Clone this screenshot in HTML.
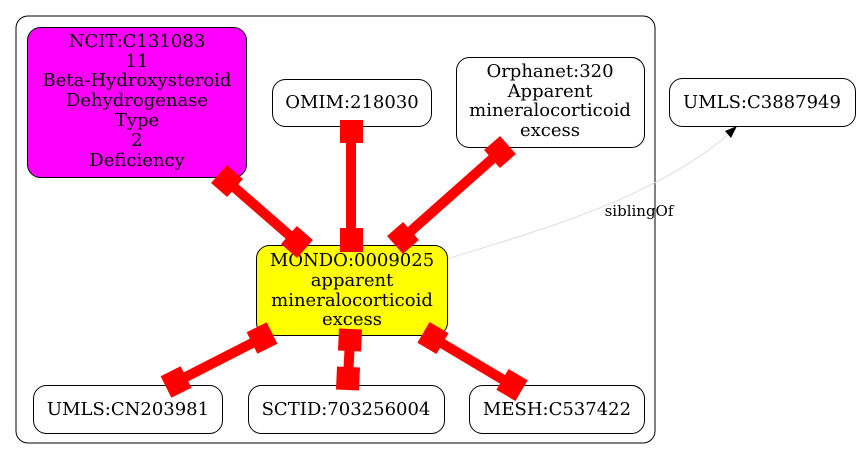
<!DOCTYPE html>
<html><head><meta charset="utf-8"><style>
html,body{margin:0;padding:0;background:#fff;width:861px;height:460px;overflow:hidden}
svg{display:block}
text{font-family:"DejaVu Serif","Liberation Serif",serif;font-size:18px;fill:#000;text-anchor:middle}
</style></head><body>
<svg width="861" height="460" viewBox="0 0 861 460" xmlns="http://www.w3.org/2000/svg">
<rect x="16" y="16" width="639" height="427" rx="12" fill="#fff" stroke="#000" stroke-width="1"/>

<!-- siblingOf edge -->
<path d="M447,259 C540,230 650,200 728,135" fill="none" stroke="#ddd" stroke-width="1"/>
<polygon points="737,126 725,131 731,138" fill="#000"/>
<text x="639" y="216" style="font-size:15px">siblingOf</text>

<!-- nodes -->
<rect x="27.5" y="27.5" width="219" height="150" rx="13" fill="#ff00ff" stroke="#000"/>
<text x="137" y="47">NCIT:C131083</text>
<text x="137" y="67">11</text>
<text x="137" y="86">Beta-Hydroxysteroid</text>
<text x="137" y="106">Dehydrogenase</text>
<text x="137" y="126">Type</text>
<text x="137" y="146">2</text>
<text x="137" y="166">Deficiency</text>

<rect x="272.5" y="79.5" width="159" height="47" rx="13" fill="#fff" stroke="#000"/>
<text x="352" y="108">OMIM:218030</text>

<rect x="456.5" y="57.5" width="188" height="90" rx="13" fill="#fff" stroke="#000"/>
<text x="550" y="77">Orphanet:320</text>
<text x="550" y="97">Apparent</text>
<text x="550" y="116">mineralocorticoid</text>
<text x="550" y="136">excess</text>

<rect x="669.5" y="78.5" width="186" height="48" rx="13" fill="#fff" stroke="#000"/>
<text x="762" y="108">UMLS:C3887949</text>

<rect x="256.5" y="245.5" width="191" height="90" rx="13" fill="#ffff00" stroke="#000"/>
<text x="352" y="266">MONDO:0009025</text>
<text x="352" y="286">apparent</text>
<text x="352" y="306">mineralocorticoid</text>
<text x="352" y="325">excess</text>

<rect x="33.5" y="385.5" width="189" height="48" rx="13" fill="#fff" stroke="#000"/>
<text x="128" y="415">UMLS:CN203981</text>
<rect x="248.5" y="385.5" width="196" height="48" rx="13" fill="#fff" stroke="#000"/>
<text x="346" y="415">SCTID:703256004</text>
<rect x="469.5" y="385.5" width="175" height="48" rx="13" fill="#fff" stroke="#000"/>
<text x="557" y="415">MESH:C537422</text>

<!-- red edges -->
<g stroke="#ff0000" fill="none" stroke-linecap="butt">
<line x1="227" y1="181" x2="297" y2="242" stroke-width="10"/>
<line x1="219" y1="174" x2="235" y2="188" stroke-width="24"/>
<line x1="289" y1="235" x2="305" y2="249" stroke-width="24"/>

<line x1="351" y1="131" x2="351" y2="240" stroke-width="10"/>
<line x1="351.5" y1="120" x2="351.5" y2="143" stroke-width="23"/>
<line x1="351.5" y1="228" x2="351.5" y2="252" stroke-width="23"/>

<line x1="500" y1="152" x2="403" y2="238" stroke-width="10"/>
<line x1="508" y1="145" x2="492" y2="159" stroke-width="24"/>
<line x1="411" y1="231" x2="395" y2="245" stroke-width="24"/>

<line x1="262" y1="338" x2="176" y2="382" stroke-width="10"/>
<line x1="272" y1="333" x2="252" y2="343" stroke-width="24"/>
<line x1="186" y1="377" x2="166" y2="387" stroke-width="24"/>

<line x1="350" y1="340" x2="348" y2="378" stroke-width="10"/>
<line x1="350.5" y1="329" x2="349.5" y2="351" stroke-width="23"/>
<line x1="348.5" y1="367" x2="347.5" y2="390" stroke-width="23"/>

<line x1="433" y1="338" x2="512" y2="385" stroke-width="10"/>
<line x1="423.5" y1="332.4" x2="442.5" y2="343.6" stroke-width="24"/>
<line x1="502.5" y1="379.4" x2="521.5" y2="390.6" stroke-width="24"/>
</g>
</svg>
</body></html>
